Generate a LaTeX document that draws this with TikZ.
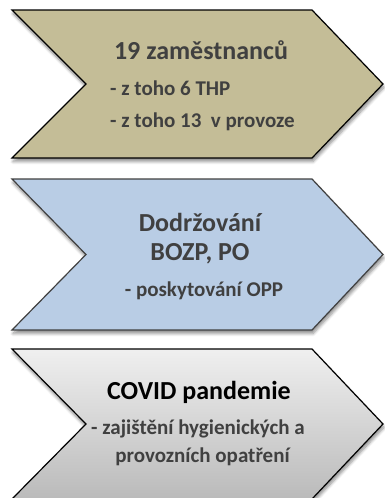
\documentclass[tikz,border=0pt]{standalone}
\usepackage{fontspec}
\setmainfont{Carlito}
\usetikzlibrary{shadows.blur}

\definecolor{khaki}{HTML}{C4BD97}
\definecolor{paleblue}{HTML}{B9CDE5}
\definecolor{darktext}{HTML}{404040}

\begin{document}
\begin{tikzpicture}[x=1pt,y=-1pt,line join=miter,
  chevron/.style={draw=black,line width=1.2pt,
    blur shadow={shadow xshift=1pt,shadow yshift=-3.5pt,shadow blur steps=6,
      shadow blur radius=3pt,shadow opacity=45}},
  head/.style={inner sep=0pt,anchor=base,text=darktext,
    font=\fontsize{26}{26}\selectfont\bfseries},
  subline/.style={inner sep=0pt,anchor=base west,text=darktext,
    font=\fontsize{21}{21}\selectfont\bfseries}]

  \useasboundingbox (0,0) rectangle (384,498);

  % staff
  \draw[chevron,fill=khaki] (12,10) -- (312,10) -- (383,84) -- (312,158)
    -- (12,158) -- (86,84) -- cycle;
  \node[head] (staff) at (201,59) {19 zaměstnanců};
  \node[subline] (thp) at (110,95) {- z toho 6 THP};
  \node[subline] (prod) at (110,127) {- z toho 13\ \ v provoze};

  % safety
  \draw[chevron,draw=darktext,fill=paleblue] (12,179) -- (312,179) -- (383,254.5)
    -- (312,330) -- (12,330) -- (86,254.5) -- cycle;
  \node[head] (bozp) at (200,231) {Dodržování};
  \node[head] (bozp po) at (200,260) {BOZP, PO};
  \node[subline,anchor=base] (opp) at (204,296) {- poskytování OPP};

  % covid
  \draw[chevron,top color=black!6,bottom color=black!27] (12,349) -- (312,349)
    -- (383,424) -- (312,499) -- (12,499) -- (86,424) -- cycle;
  \node[head,text=black] (covid) at (199,399) {COVID pandemie};
  \node[subline,anchor=base] (hyg) at (198,434) {- zajištění hygienických a};
  \node[subline,anchor=base] (opatr) at (202.5,462) {provozních opatření};
\end{tikzpicture}
\end{document}
